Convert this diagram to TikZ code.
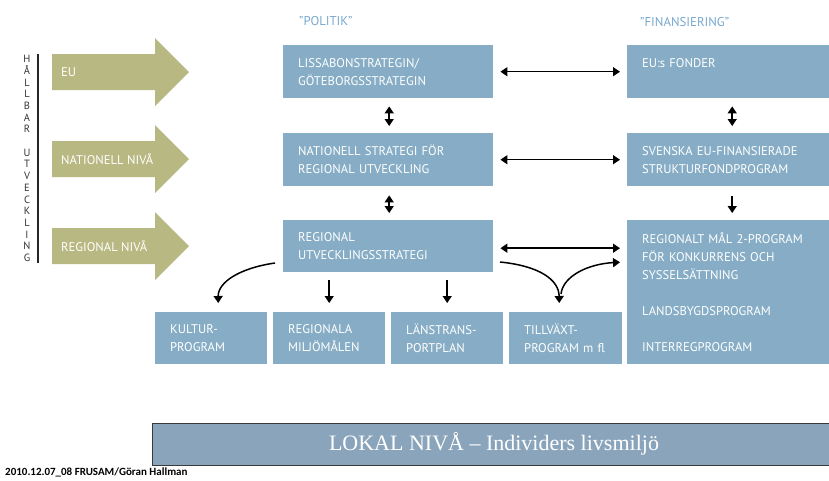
\documentclass[tikz,border=0pt]{standalone}
\usepackage{fontspec}
\setmainfont{Liberation Serif}
\newfontfamily\boxfont{PT Sans}
\newfontfamily\footfont{Carlito}
\usetikzlibrary{arrows.meta}
\definecolor{boxblue}{HTML}{86ADC5}
\definecolor{headblue}{HTML}{78A8CF}
\definecolor{olivegreen}{HTML}{B8B882}
\definecolor{lokalblue}{HTML}{8AA5BB}
\definecolor{lokalline}{HTML}{3A3A3A}
\begin{document}
\begin{tikzpicture}[x=1pt,y=-1pt,
  box/.style={fill=boxblue, text=white, anchor=north west, align=left,
    inner xsep=15pt, inner ysep=0pt,
    font=\boxfont\fontsize{12.6}{18}\selectfont},
  greenarrow/.style={fill=olivegreen},
  greenlabel/.style={text=white, anchor=west, inner sep=0pt,
    font=\boxfont\fontsize{12.6}{18}\selectfont},
  header/.style={text=headblue, anchor=west, inner sep=0pt,
    font=\boxfont\fontsize{12.8}{16}\selectfont},
  conn/.style={line width=1.5pt, -{Triangle[length=7pt,width=9pt]}},
  dconn/.style={line width=1.5pt, {Triangle[length=7pt,width=9pt]}-{Triangle[length=7pt,width=9pt]}}
]
\useasboundingbox (0,0) rectangle (829,480);
\clip (0,0) rectangle (829,480);

% headers
\node[header] (hpol) at (299,21) {”POLITIK”};
\node[header] (hfin) at (640,22) {”FINANSIERING”};

% left vertical text and line
\node[text=black!80, align=center, inner sep=0pt,
  font=\boxfont\fontsize{10.5}{11.7}\selectfont] (hallbar) at (27,158.5)
  {H\\Å\\L\\L\\B\\A\\R\\\mbox{}\\U\\T\\V\\E\\C\\K\\L\\I\\N\\G};
\draw[line width=1.2pt, black!85] (38,54) -- (38,263);

% green arrows
\foreach \cy/\nm/\txt in {72/geu/EU, 159/gnat/NATIONELL NIVÅ, 246/greg/REGIONAL NIVÅ}{
  \fill[greenarrow] (52,\cy-18) -- (155,\cy-18) -- (155,\cy-34) -- (189,\cy)
    -- (155,\cy+34) -- (155,\cy+18) -- (52,\cy+18) -- cycle;
  \node[greenlabel] (\nm) at (61,\cy) {\txt};
}

% politik column
\node[box, text width=180pt, minimum height=53pt] (lis) at (283,45)
  {LISSABONSTRATEGIN/\\GÖTEBORGSSTRATEGIN};
\node[box, text width=180pt, minimum height=53pt] (nat) at (283,133)
  {NATIONELL STRATEGI FÖR\\REGIONAL UTVECKLING};
\node[box, text width=180pt, minimum height=52pt] (reg) at (283,220)
  {REGIONAL\\UTVECKLINGSSTRATEGI};

% finansiering column
\node[box, text width=182pt, minimum height=53pt] (fond) at (627,45)
  {EU:s FONDER\\\mbox{}};
\node[box, text width=182pt, minimum height=53pt] (sv) at (627,133)
  {SVENSKA EU-FINANSIERADE\\STRUKTURFONDPROGRAM};
\node[box, text width=182pt, minimum height=144pt] (big) at (627,220)
  {REGIONALT MÅL 2-PROGRAM\\FÖR KONKURRENS OCH\\SYSSELSÄTTNING\\\mbox{}\\LANDSBYGDSPROGRAM\\\mbox{}\\INTERREGPROGRAM};

% bottom boxes
\node[box, text width=82pt, minimum height=52pt] (kul) at (155,312) {KULTUR-\\PROGRAM};
\node[box, text width=82pt, minimum height=52pt] (milj) at (273,312) {REGIONALA\\MILJÖMÅLEN};
\node[box, text width=82pt, minimum height=52pt] (lans) at (391,312) {LÄNSTRANS-\\PORTPLAN};
\node[box, text width=83pt, minimum height=52pt] (till) at (509,312) {TILLVÄXT-\\PROGRAM m fl};

% horizontal double arrows
\draw[dconn, shorten <=7pt, shorten >=7pt] (lis.east) -- (lis.east -| fond.west);
\draw[dconn, shorten <=7pt, shorten >=7pt] (nat.east) -- (nat.east -| sv.west);
\draw[dconn, shorten <=7pt, shorten >=7pt] ([yshift=-2pt]reg.east) -- ([yshift=-2pt]reg.east -| big.west);

% vertical arrows
\draw[dconn, shorten <=8pt, shorten >=7pt] ([xshift=1pt]lis.south) -- ([xshift=1pt]nat.north);
\draw[dconn, shorten <=9pt, shorten >=7pt] ([xshift=1pt]nat.south) -- ([xshift=1pt]reg.north);
\draw[dconn, shorten <=8pt, shorten >=7pt] ([xshift=-1pt]fond.south) -- ([xshift=-1pt]sv.north);
\draw[conn, shorten <=10pt, shorten >=7pt] ([xshift=-1pt]sv.south) -- ([xshift=-1pt]big.north);

% regional -> bottom boxes
\coordinate (kulstart) at (275,263);
\coordinate (tillstart) at (500,262);
\coordinate (tillend) at (561,294);
\draw[conn] (kulstart) .. controls (240,268) and (218,282) .. ([xshift=7pt,yshift=9pt]kul.north);
\draw[conn, shorten <=8pt, shorten >=9pt] (reg.south -| milj.north) -- (milj.north);
\draw[conn, shorten <=8pt, shorten >=9pt] (reg.south -| lans.north) -- (lans.north);
\draw[conn] (tillstart) .. controls (540,266) and (559,280) .. ([xshift=-6.5pt,yshift=9pt]till.north);
\draw[conn] (tillend) .. controls (563,276) and (588,264) .. ([xshift=-7pt,yshift=30pt]big.west);

% lokal niva
\node[fill=lokalblue, draw=lokalline, line width=1pt, anchor=north west,
  minimum width=690pt, minimum height=42pt, inner sep=0pt] (lokal) at (152,423) {};
\node[text=white, font=\fontsize{22}{24}\selectfont, inner sep=0pt] (lokaltxt)
  at (494,444) {LOKAL NIVÅ – Individers livsmiljö};

% footer
\node[anchor=west, inner sep=0pt, font=\footfont\bfseries\fontsize{11}{12}\selectfont] (foot)
  at (5,472) {2010.12.07\_08 FRUSAM/Göran Hallman};
\end{tikzpicture}
\end{document}
